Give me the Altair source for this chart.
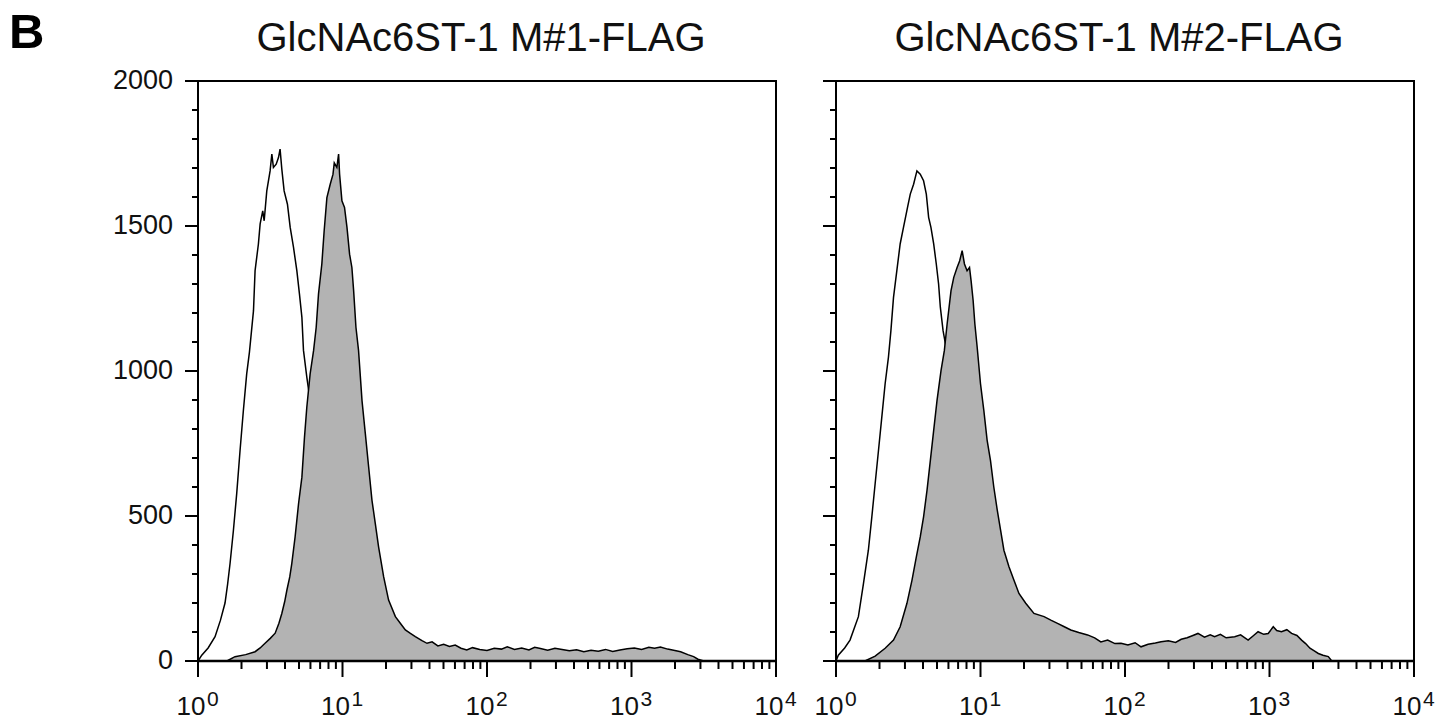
import altair as alt
import pandas as pd

FONT = "Liberation Sans"
TITLES = ["GlcNAc6ST-1 M#1-FLAG", "GlcNAc6ST-1 M#2-FLAG"]
PANEL_LABEL = "B"
Y_TICKS = [0, 500, 1000, 1500, 2000]
Y_MINOR = [100, 200, 300, 400, 600, 700, 800, 900, 1100, 1200, 1300, 1400,
           1600, 1700, 1800, 1900]
X_TICKS = [1, 10, 100, 1000, 10000]
X_EXP = ["0", "1", "2", "3", "4"]
X_MINOR = [k * 10 ** d for d in range(4) for k in range(2, 10)]

# ---- panel 1 (M#1) : log10 fluorescence / cell count ----
L_OPEN_LOG = [0.0, 0.026, 0.07, 0.118, 0.155, 0.187, 0.205, 0.222, 0.245, 0.268,
              0.291, 0.314, 0.337, 0.356, 0.384, 0.395, 0.418, 0.430, 0.448, 0.458,
              0.476, 0.499, 0.511, 0.522, 0.541, 0.557, 0.568, 0.580, 0.596, 0.619,
              0.638, 0.661, 0.684, 0.702, 0.719, 0.730, 0.753, 0.776, 0.80, 0.85,
              0.90, 0.95, 1.00, 1.05, 1.10, 1.20, 1.30]
L_OPEN_CNT = [0, 20, 45, 84, 140, 200, 265, 337, 450, 578,
              726, 864, 990, 1065, 1208, 1346, 1438, 1507, 1552, 1518,
              1621, 1690, 1748, 1702, 1713, 1736, 1765, 1696, 1621, 1575,
              1495, 1426, 1346, 1266, 1185, 1071, 979, 898, 800, 600,
              400, 250, 130, 60, 25, 5, 0]
L_FILL_LOG = [0.20, 0.256, 0.33, 0.395, 0.43, 0.464, 0.50, 0.534, 0.56, 0.580,
              0.60, 0.615, 0.635, 0.649, 0.672, 0.696, 0.719, 0.737, 0.753, 0.776,
              0.800, 0.818, 0.834, 0.857, 0.873, 0.892, 0.915, 0.934, 0.943, 0.961,
              0.973, 0.980, 0.996, 1.014, 1.031, 1.049, 1.065, 1.077, 1.093, 1.111,
              1.135, 1.158, 1.181, 1.204, 1.227, 1.250, 1.285, 1.319, 1.366, 1.40,
              1.435, 1.47, 1.504, 1.55, 1.585, 1.62, 1.66, 1.70, 1.74, 1.78,
              1.82, 1.86, 1.90, 1.95, 2.00, 2.05, 2.10, 2.14, 2.19, 2.24,
              2.29, 2.33, 2.37, 2.42, 2.47, 2.52, 2.57, 2.62, 2.67, 2.72,
              2.77, 2.82, 2.87, 2.92, 2.97, 3.02, 3.07, 3.12, 3.16, 3.20,
              3.25, 3.30, 3.34, 3.39, 3.43, 3.46, 3.50]
L_FILL_CNT = [0, 15, 22, 32, 45, 61, 78, 96, 130, 164,
              205, 244, 290, 336, 428, 543, 634, 772, 875, 990,
              1071, 1151, 1266, 1369, 1483, 1598, 1644, 1678, 1718, 1702,
              1748, 1678, 1587, 1564, 1495, 1403, 1357, 1277, 1151, 1071,
              898, 784, 669, 554, 474, 393, 290, 210, 153, 130,
              107, 95, 84, 70, 61, 66, 52, 58, 50, 55,
              44, 38, 46, 40, 36, 44, 41, 49, 40, 45,
              38, 47, 43, 37, 44, 40, 35, 39, 32, 37,
              34, 40, 33, 38, 42, 45, 40, 47, 44, 48,
              41, 36, 32, 22, 15, 6, 0]

# ---- panel 2 (M#2) ----
R_OPEN_LOG = [0.0, 0.016, 0.06, 0.097, 0.155, 0.190, 0.224, 0.248, 0.271, 0.294,
              0.317, 0.340, 0.363, 0.380, 0.398, 0.421, 0.444, 0.467, 0.495, 0.514,
              0.537, 0.560, 0.583, 0.606, 0.625, 0.641, 0.657, 0.676, 0.694, 0.710,
              0.722, 0.741, 0.757, 0.78, 0.82, 0.86, 0.90, 0.95, 1.00, 1.05,
              1.10, 1.20, 1.30, 1.40]
R_OPEN_CNT = [0, 20, 45, 72, 153, 267, 382, 497, 612, 726,
              841, 956, 1048, 1139, 1254, 1346, 1438, 1495, 1564, 1610,
              1644, 1690, 1679, 1656, 1610, 1530, 1495, 1438, 1369, 1300,
              1220, 1139, 1094, 1000, 850, 680, 520, 350, 220, 130,
              70, 20, 5, 0]
R_FILL_LOG = [0.20, 0.271, 0.340, 0.398, 0.444, 0.491, 0.526, 0.556, 0.583, 0.606,
              0.630, 0.653, 0.676, 0.699, 0.727, 0.750, 0.769, 0.796, 0.815, 0.838,
              0.856, 0.873, 0.889, 0.907, 0.924, 0.935, 0.949, 0.961, 0.977, 1.000,
              1.023, 1.046, 1.069, 1.092, 1.116, 1.139, 1.162, 1.197, 1.231, 1.266,
              1.313, 1.370, 1.440, 1.490, 1.533, 1.580, 1.625, 1.680, 1.741, 1.79,
              1.833, 1.88, 1.93, 1.972, 2.02, 2.07, 2.111, 2.16, 2.21, 2.25,
              2.30, 2.35, 2.389, 2.43, 2.47, 2.505, 2.55, 2.59, 2.620, 2.66,
              2.70, 2.759, 2.80, 2.852, 2.89, 2.921, 2.96, 2.991, 3.026, 3.05,
              3.083, 3.12, 3.153, 3.19, 3.222, 3.250, 3.280, 3.310, 3.338, 3.370,
              3.407, 3.431]
R_FILL_CNT = [0, 17, 44, 72, 118, 199, 279, 359, 428, 497,
              589, 692, 795, 898, 1002, 1071, 1162, 1277, 1323, 1357,
              1380, 1415, 1369, 1346, 1357, 1311, 1243, 1162, 1082, 956,
              864, 761, 692, 600, 520, 451, 382, 325, 279, 233,
              199, 164, 153, 140, 130, 118, 107, 98, 90, 80,
              66, 72, 60, 61, 55, 63, 49, 58, 62, 66,
              70, 64, 75, 80, 88, 95, 82, 90, 84, 92,
              80, 84, 90, 72, 88, 101, 92, 95, 118, 105,
              101, 108, 95, 88, 72, 60, 44, 35, 26, 20,
              15, 0]

assert len(L_OPEN_LOG) == len(L_OPEN_CNT)
assert len(L_FILL_LOG) == len(L_FILL_CNT)
assert len(R_OPEN_LOG) == len(R_OPEN_CNT)
assert len(R_FILL_LOG) == len(R_FILL_CNT)

W, H = 578, 580
GRAY = "#b3b3b3"
INK = "#111111"

xs = alt.Scale(type="log", domain=[1, 10000], nice=False)
ys = alt.Scale(domain=[0, 2000], nice=False, zero=True)


def make_df(logs, cnts):
    return pd.DataFrame({"fl": [10 ** v for v in logs], "count": cnts})


def X(field):
    return alt.X(field, scale=xs, axis=None)


def Y(field):
    return alt.Y(field, scale=ys, axis=None)


def panel(title, o_log, o_cnt, f_log, f_cnt, show_labels, add_letter):
    open_line = alt.Chart(make_df(o_log, o_cnt)).mark_line(
        color="black", strokeWidth=1.5).encode(x=X("fl:Q"), y=Y("count:Q"))
    fdf = make_df(f_log, f_cnt)
    area = alt.Chart(fdf).mark_area(color=GRAY, opacity=1).encode(
        x=X("fl:Q"), y=Y("count:Q"))
    fill_line = alt.Chart(fdf).mark_line(color="black", strokeWidth=1.5).encode(
        x=X("fl:Q"), y=Y("count:Q"))
    # y ticks (major / minor), pointing outward to the left
    ymaj = alt.Chart(pd.DataFrame({"v": Y_TICKS})).mark_rule(
        color="black", strokeWidth=2).encode(
        y=Y("v:Q"), x=alt.value(-13), x2=alt.value(0))
    ymin = alt.Chart(pd.DataFrame({"v": Y_MINOR})).mark_rule(
        color="black", strokeWidth=2).encode(
        y=Y("v:Q"), x=alt.value(-6), x2=alt.value(0))
    # x ticks (major / minor), pointing down
    xmaj = alt.Chart(pd.DataFrame({"v": X_TICKS})).mark_rule(
        color="black", strokeWidth=2).encode(
        x=X("v:Q"), y=alt.value(H), y2=alt.value(H + 16))
    xmin = alt.Chart(pd.DataFrame({"v": X_MINOR})).mark_rule(
        color="black", strokeWidth=2).encode(
        x=X("v:Q"), y=alt.value(H), y2=alt.value(H + 8))
    # bottom axis line (slightly heavier than frame)
    base = alt.Chart(pd.DataFrame({"v": [1, 10000]})).mark_rule(
        color="black", strokeWidth=2.5).encode(
        x=X("min(v):Q"), x2="max(v):Q", y=alt.value(H))
    tdf = pd.DataFrame({"v": X_TICKS, "e": X_EXP})
    base_lab = alt.Chart(tdf).mark_text(
        align="right", baseline="alphabetic", dx=7.5, font=FONT, fontSize=26,
        color=INK).encode(x=X("v:Q"), y=alt.value(H + 54), text=alt.value("10"))
    sup_lab = alt.Chart(tdf).mark_text(
        align="left", baseline="alphabetic", dx=9, font=FONT, fontSize=21,
        color=INK).encode(x=X("v:Q"), y=alt.value(H + 45), text="e:N")
    ttl = alt.Chart(pd.DataFrame({"t": [title]})).mark_text(
        align="center", baseline="alphabetic", font=FONT, fontSize=40,
        color=INK).encode(x=alt.value(W / 2 - 6), y=alt.value(-30), text="t:N")
    layers = [open_line, area, fill_line, ymaj, ymin, xmaj, xmin, base,
              base_lab, sup_lab, ttl]
    if show_labels:
        ylab = alt.Chart(pd.DataFrame({"v": Y_TICKS})).mark_text(
            align="right", baseline="middle", font=FONT, fontSize=27,
            color=INK).encode(y=Y("v:Q"), x=alt.value(-25), text="v:Q")
        layers.append(ylab)
    if add_letter:
        letter = alt.Chart(pd.DataFrame({"t": [PANEL_LABEL]})).mark_text(
            align="left", baseline="alphabetic", font=FONT, fontSize=49,
            fontWeight="bold", color="black").encode(
            x=alt.value(-189), y=alt.value(-33), text="t:N")
        layers.append(letter)
    return alt.layer(*layers).properties(width=W, height=H)


p1 = panel(TITLES[0], L_OPEN_LOG, L_OPEN_CNT, L_FILL_LOG, L_FILL_CNT, True, True)
p2 = panel(TITLES[1], R_OPEN_LOG, R_OPEN_CNT, R_FILL_LOG, R_FILL_CNT, False, False)

chart = alt.hconcat(p1, p2, spacing=60, bounds="flush").properties(
    padding=0, background="white").configure_view(stroke="black", strokeWidth=2)

chart.save("out.html", embed_options={"renderer": "svg", "actions": False})
